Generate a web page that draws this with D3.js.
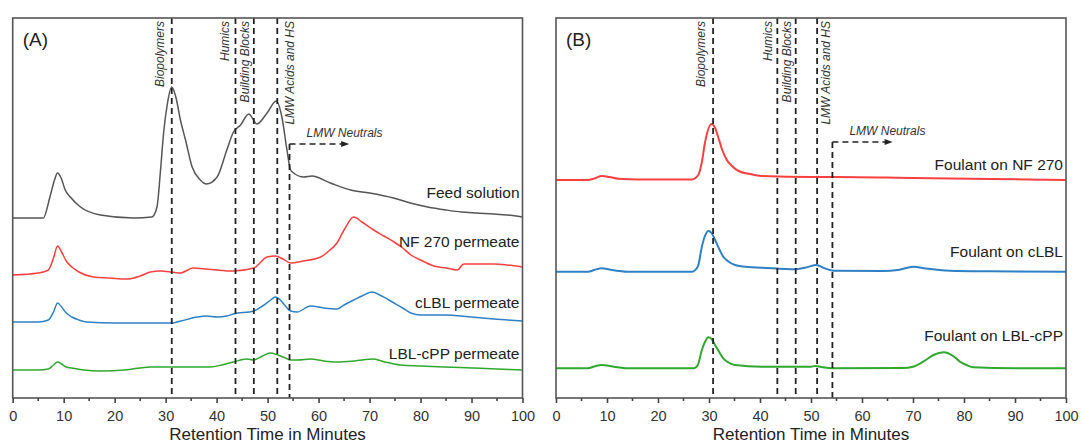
<!DOCTYPE html>
<html><head><meta charset="utf-8">
<script src="https://cdn.jsdelivr.net/npm/d3@7"></script>
<style>
body{margin:0;background:#fff}
svg{display:block;font-family:"Liberation Sans",Arial,sans-serif}
</style>
</head><body>
<svg id="c" width="1081" height="444"></svg>
<script>
// ---------- data ----------
const xTickValues = [0,10,20,30,40,50,60,70,80,90,100];
const xMinorTicks = [5,15,25,35,45,55,65,75,85,95];
const xTitle = "Retention Time in Minutes";
const fractionNames = ["Biopolymers","Humics","Building Blocks","LMW Acids and HS"];
const neutralsName = "LMW Neutrals";
const fractionTimesA = [31.2, 43.7, 47.3, 51.9];
const fractionTimesB = [30.8, 43.4, 47.0, 51.2];
const neutralsTimeA = 54.3, neutralsTimeB = 54.2;
const neutralsArrowEnd = 66;

// Panel A: permeates (signal, arbitrary units, stacked)
const feedT = [0,6,7.3,8.2,8.8,9.5,10.3,11.3,13.3,17.2,23.7,27.3,28.3,29,29.6,30.3,31.2,32,32.9,33.9,35.2,36.8,38,40.1,42,43.3,44.7,46.3,47.9,49.9,51.7,52.8,53.8,54.5,55.1,57.1,58.7,62.3,66.3,70,74.7,78,81.4,85,88,91,94.4,97,100];
const feedV = [180,180,201,218,225,220,208,201,191,183,180,181,191,228,265,293,311,301,278,258,231,218,214,221,248,266,273,284,274,285,297,281,248,228,225,221,222,215,208,205,200,195,191,188,186,185,184,183,181];
const nfPermT = [0,5,7,8,8.8,9.6,10.5,11.6,13,15.8,19,22.4,25,27,29,31.2,32.9,35.4,38,40,43.3,47.3,49.9,51.5,53,54.5,57,60.4,62,63.6,65,66.9,68.5,70.8,72.8,74.8,76.5,78.1,80,82.6,85,87.2,88.5,91,94.4,97,100];
const nfPermV = [123,125,128,140,152,146,137,131,126,121,120,119,122,126,127,126,125,130,129,128,127,130,141,142,139,135,137,141,147,155,168,181,176,168,162,156,150,143,138,132,130,128,134,134,134,133,131];
const clblPermT = [0,5,7,8,8.8,9.6,10.5,11.6,13,14.5,20,25,31.2,33,36.2,38,40.1,42,43.3,47.3,49,50.6,51.5,52.5,53.5,54.5,55.8,58.4,61,63.7,65,66.9,68.5,70.5,72,74.8,76.5,78.1,80,84.6,90,94.4,100];
const clblPermV = [76,76,78,86,95,91,85,81,78,76,75,75,75,77,81,82,81,82,84,87,92,98,101,98,92,87,86,92,90,89,93,98,102,106,103,95,90,85,83,83,81,79,77];
const lblPermT = [0,5,7,8,8.8,9.6,10.5,11.6,14,17.2,22,27,31.2,35,38.8,41,43.3,45.9,47.3,49,50.5,52,53.5,54.5,56,58.4,61,63.7,67,70.8,73,76.1,80,84.6,90,95,100];
const lblPermV = [28,28,29,33,36,34,31,30,28,27,28,31,31,31,31,33,36,39,38,42,45,43,40,38,38,39,37,36,37,39,36,33,32,31,30,29,28];

// Panel B: foulants
const nfFoulT = [0,6.3,7.5,9,10.5,12.2,16,26.6,27.9,28.6,29.2,30.5,31.2,31.8,32.6,33.5,34.5,35.8,38,40.3,50,55,70,85,100];
const nfFoulV = [218,218,219.5,222,221,219.3,218.5,218.5,223,236,255,274,270,261,248,238,232,227,224,222,221,221,220,219,218];
const clblFoulT = [0,6.3,7.5,9,10.5,12.5,14,26.6,27.8,28.6,29.2,29.9,30.5,31.2,32,32.8,33.8,35.1,37.5,40.3,46.9,49,51.1,52.5,54.4,64.2,67,70.1,72.5,77.3,85,100];
const clblFoulV = [126.3,126.3,128,129.7,128.5,127,126.3,126.3,131.3,151.3,162,167,165,158,149,141.3,136.5,133,131,130.3,128.7,130.5,133,130,127.3,127,128,131.3,129.5,127.3,126.7,126.3];
const lblFoulT = [0,6.3,7.5,9,10.5,12.5,14,27,27.8,28.6,29.2,29.9,30.5,31.2,32,32.8,33.8,35.1,40.3,50,50.8,52,54.4,68,70,72,74,76,78,79.2,80.5,81.8,90,100];
const lblFoulV = [29.7,29.7,31.5,33,32,30.5,29.7,29.7,33,48,56,60.7,59,53,46,39.7,35.5,33,31.3,31.3,32,31,29.7,30,31.3,36.3,43,45.7,41.5,36.3,33,30.7,29.7,29.7];

const seriesNamesA = ["Feed solution","NF 270 permeate","cLBL permeate","LBL-cPP permeate"];
const seriesNamesB = ["Foulant on NF 270","Foulant on cLBL","Foulant on LBL-cPP"];

// ---------- layout / style ----------
const COL = {gray:"#555555", red:"#f84040", blue:"#2f80c4", green:"#30a830"};
const TOP = 18, BOTTOM = 398;
const svg = d3.select("#c");

function drawPanel(cfg){
  const g = svg.append("g");
  const x = d3.scaleLinear().domain([0,100]).range([cfg.left, cfg.right]);
  const y = d3.scaleLinear().domain([0,380]).range([BOTTOM, TOP]);
  const line = d3.line().x(d=>x(d[0])).y(d=>y(d[1])).curve(d3.curveMonotoneX);

  cfg.series.forEach(s=>{
    g.append("path").datum(d3.zip(s.t, s.v)).attr("d", line)
      .attr("fill","none").attr("stroke", s.color).attr("stroke-width", cfg.lw)
      .attr("stroke-linejoin","round");
    g.append("text").attr("x", cfg.right - 3).attr("y", s.labelY)
      .attr("text-anchor","end").attr("font-size", 15.5).attr("fill","#222")
      .text(s.name);
  });

  // fraction dashed lines
  const dash = "6,4";
  cfg.fractions.forEach((t,i)=>{
    g.append("line").attr("x1", x(t)).attr("x2", x(t)).attr("y1", TOP).attr("y2", BOTTOM)
      .attr("stroke","#222").attr("stroke-width",1.8).attr("stroke-dasharray",dash);
    g.append("text").attr("transform",`translate(${x(t)+cfg.labelOff[i]},${TOP+3}) rotate(-90)`)
      .attr("text-anchor","end").attr("font-size",12).attr("font-style","italic").attr("fill","#333")
      .text(fractionNames[i]);
  });
  // LMW neutrals marker
  const ny = cfg.neutralsY;
  g.append("line").attr("x1", x(cfg.neutrals)).attr("x2", x(cfg.neutrals)).attr("y1", ny).attr("y2", BOTTOM)
    .attr("stroke","#222").attr("stroke-width",1.8).attr("stroke-dasharray",dash);
  const xe = x(neutralsArrowEnd);
  g.append("line").attr("x1", x(cfg.neutrals)).attr("x2", xe-6).attr("y1", ny).attr("y2", ny)
    .attr("stroke","#222").attr("stroke-width",1.5).attr("stroke-dasharray",dash);
  g.append("path").attr("d", `M${xe},${ny} L${xe-8},${ny-3} L${xe-8},${ny+3} Z`).attr("fill","#222");
  g.append("text").attr("x", x(cfg.neutrals)+17).attr("y", ny-7)
    .attr("font-size",12).attr("font-style","italic").attr("fill","#333").text(neutralsName);

  // frame
  g.append("rect").attr("x", cfg.left).attr("y", TOP).attr("width", cfg.right-cfg.left).attr("height", BOTTOM-TOP)
    .attr("fill","none").attr("stroke","#555").attr("stroke-width",1.6);

  // axis
  const ax = g.append("g").attr("transform",`translate(0,${BOTTOM})`)
    .call(d3.axisBottom(x).tickValues(xTickValues).tickSize(5).tickPadding(7.5));
  ax.select(".domain").remove();
  ax.selectAll(".tick line").attr("stroke","#444").attr("stroke-width",1.6);
  ax.selectAll(".tick text").attr("font-size",14.5).attr("fill","#333")
    .attr("font-family","'Liberation Sans',Arial,sans-serif");
  g.selectAll(".minor").data(xMinorTicks).enter().append("line")
    .attr("x1",d=>x(d)).attr("x2",d=>x(d)).attr("y1",BOTTOM).attr("y2",BOTTOM+3)
    .attr("stroke","#444").attr("stroke-width",1.6);
  g.append("text").attr("x",(cfg.left+cfg.right)/2).attr("y",440).attr("text-anchor","middle")
    .attr("font-size",17).attr("fill","#222").text(xTitle);
  g.append("text").attr("x",cfg.left+10).attr("y",46).attr("font-size",19).attr("fill","#222").text(cfg.tag);
}

drawPanel({
  tag:"(A)", left:12.7, right:522.5, lw:1.5,
  fractions: fractionTimesA, neutrals: neutralsTimeA, neutralsY:144,
  labelOff:[-8,-6,-5,17],
  series:[
    {t:feedT, v:feedV, color:COL.gray, name:seriesNamesA[0], labelY:198},
    {t:nfPermT, v:nfPermV, color:COL.red, name:seriesNamesA[1], labelY:247},
    {t:clblPermT, v:clblPermV, color:COL.blue, name:seriesNamesA[2], labelY:308},
    {t:lblPermT, v:lblPermV, color:COL.green, name:seriesNamesA[3], labelY:359}
  ]
});
drawPanel({
  tag:"(B)", left:556, right:1066, lw:2,
  fractions: fractionTimesB, neutrals: neutralsTimeB, neutralsY:142,
  labelOff:[-8,-5,-5,13],
  series:[
    {t:nfFoulT, v:nfFoulV, color:COL.red, name:seriesNamesB[0], labelY:170},
    {t:clblFoulT, v:clblFoulV, color:COL.blue, name:seriesNamesB[1], labelY:257},
    {t:lblFoulT, v:lblFoulV, color:COL.green, name:seriesNamesB[2], labelY:341}
  ]
});
</script>
</body></html>
